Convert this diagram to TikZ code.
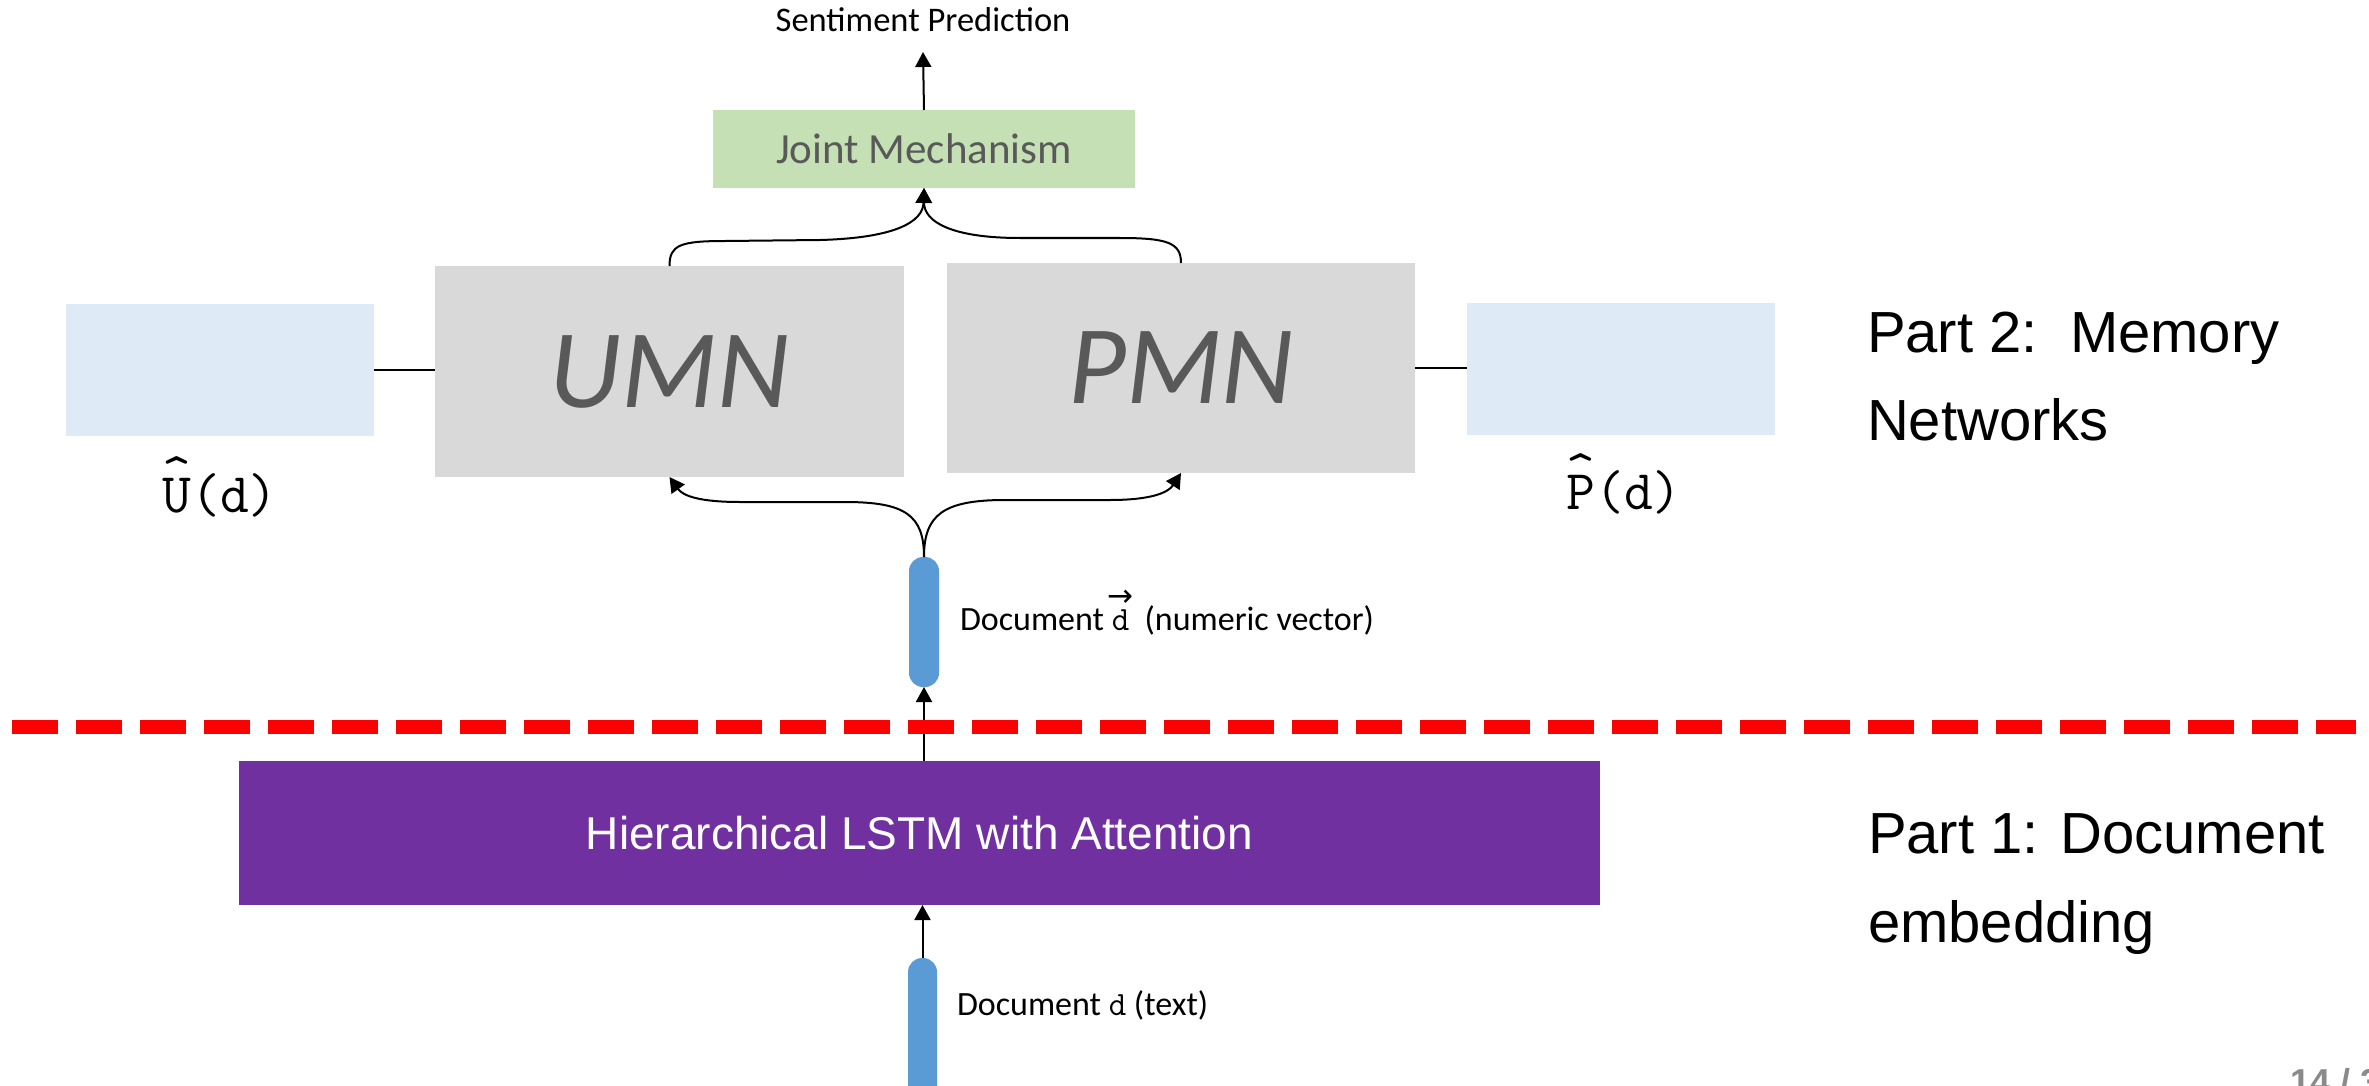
\documentclass[tikz,border=0pt]{standalone}
\usepackage{fontspec}
\setmainfont{Carlito}
\newfontfamily\helv{Liberation Sans}
\newfontfamily\djv{DejaVu Sans}
\usetikzlibrary{arrows.meta}
\definecolor{jgreen}{HTML}{C5E0B4}
\definecolor{mgray}{HTML}{D9D9D9}
\definecolor{lblue}{HTML}{DEEBF7}
\definecolor{bblue}{HTML}{5B9BD5}
\definecolor{lpurple}{HTML}{7030A0}
\definecolor{tgray}{HTML}{595959}
\definecolor{pggray}{HTML}{8A8A8A}
\newcommand\fs[1]{\fontsize{#1}{#1}\selectfont}
\newcommand\vecd{\makebox[0pt][l]{\hspace{-4pt}\raisebox{24pt}{\djv\fs{31}→}}{\ttfamily d}}
\newcommand\hatc[1]{\makebox[0pt][l]{\raisebox{0.36em}{\textasciicircum}}#1}
\begin{document}
\begin{tikzpicture}[x=1pt,y=-1pt,
  box/.style={draw=none,inner sep=0pt,outer sep=0pt},
  lbl/.style={inner sep=0pt,outer sep=0pt},
  arr/.style={line width=2pt,-{Triangle[length=15pt,width=16pt]}},
  conn/.style={line width=1.6pt},
  reddash/.style={draw=red,line width=14pt,dash pattern=on 46pt off 18pt}
]
\useasboundingbox (0,0) rectangle (2369,1086);
\clip (0,0) rectangle (2369,1086);

% boxes
\node[box,fill=jgreen,minimum width=422pt,minimum height=78pt,text=tgray,font=\fs{43}] (jm) at (924,149) {Joint Mechanism};
\node[lbl,anchor=base,font=\fs{34.5}] (sp) at (923,32) {Sentiment Prediction};
\node[box,fill=mgray,minimum width=469pt,minimum height=211pt,text=tgray,font={\fs{112}\itshape}] (umn) at (669.5,371.5) {UMN};
\node[box,fill=mgray,minimum width=468pt,minimum height=210pt,text=tgray,font={\fs{112}\itshape}] (pmn) at (1181,368) {PMN};
\node[box,fill=lblue,minimum width=308pt,minimum height=132pt] (ub) at (220,370) {};
\node[box,fill=lblue,minimum width=308pt,minimum height=132pt] (pb) at (1621,369) {};
\node[lbl,anchor=base,font={\fs{56}\ttfamily}] (ul) at (220,512) {\hatc{U}(d)};
\node[lbl,anchor=base,font={\fs{56}\ttfamily}] (pl) at (1624,509) {\hatc{P}(d)};

\node[box,fill=lpurple,minimum width=1361pt,minimum height=144pt,text=white,font={\helv\fs{46}}] (lstm) at (919.5,833) {Hierarchical LSTM with Attention};

\node[box,fill=bblue,rounded corners=14pt,minimum width=30pt,minimum height=130pt] (vec) at (924,622) {};
\node[box,fill=bblue,rounded corners=14pt,minimum width=29pt,minimum height=150pt] (doc) at (922.5,1033) {};

% labels
\node[lbl,anchor=base west,font=\fs{34}] (vl) at (960,630) {Document \vecd\ \ (numeric vector)};
\node[lbl,anchor=base west,font=\fs{34}] (dl) at (957,1015) {Document {\ttfamily d} (text)};

\node[lbl,anchor=base west,font={\helv\fs{58}}] (p2a) at (1867,352) {Part 2:\ \ Memory};
\node[lbl,anchor=base west,font={\helv\fs{58}}] (p2b) at (1867,440) {Networks};
\node[lbl,anchor=base west,font={\helv\fs{58}}] (p1a) at (1868,853) {Part 1: Document};
\node[lbl,anchor=base west,font={\helv\fs{58}}] (p1b) at (1868,942) {embedding};

% connectors
\draw[arr] (jm.north) -- ([yshift=-20pt]sp.base);
\draw[conn] (ub.east) -- (ub.east -| umn.west);
\draw[conn] (pmn.east) -- (pmn.east -| pb.west);

\draw[arr] (umn.north) .. controls (669.5,245) and (680,241) .. (725,241) -- (820,240) .. controls (895,238) and (923,222) .. (jm.south);
\draw[arr] (pmn.north) .. controls (1181,243) and (1168,238) .. (1120,238) -- (1020,238) .. controls (952,238) and (924,222) .. (jm.south);

\draw[arr] (vec.north) .. controls (924,515) and (905,502) .. (845,502) -- (740,502) .. controls (700,502) and (683,496) .. (umn.south);
\draw[arr] (vec.north) .. controls (924,515) and (943,500) .. (1005,500) -- (1110,500) .. controls (1150,500) and (1168,493) .. (pmn.south);

\draw[arr] (vec.south |- lstm.north) -- (vec.south);
\draw[arr] (doc.north) -- (doc.north |- lstm.south);

% red separator
\coordinate (rl) at (12,727);
\coordinate (rr) at (2356,727);
\draw[reddash] (rl) -- (rr);

% page number (cut off)
\node[lbl,anchor=north west,font={\helv\bfseries\fs{36}},text=pggray] (pg) at (2290,1068) {14 / 3};
\end{tikzpicture}
\end{document}
